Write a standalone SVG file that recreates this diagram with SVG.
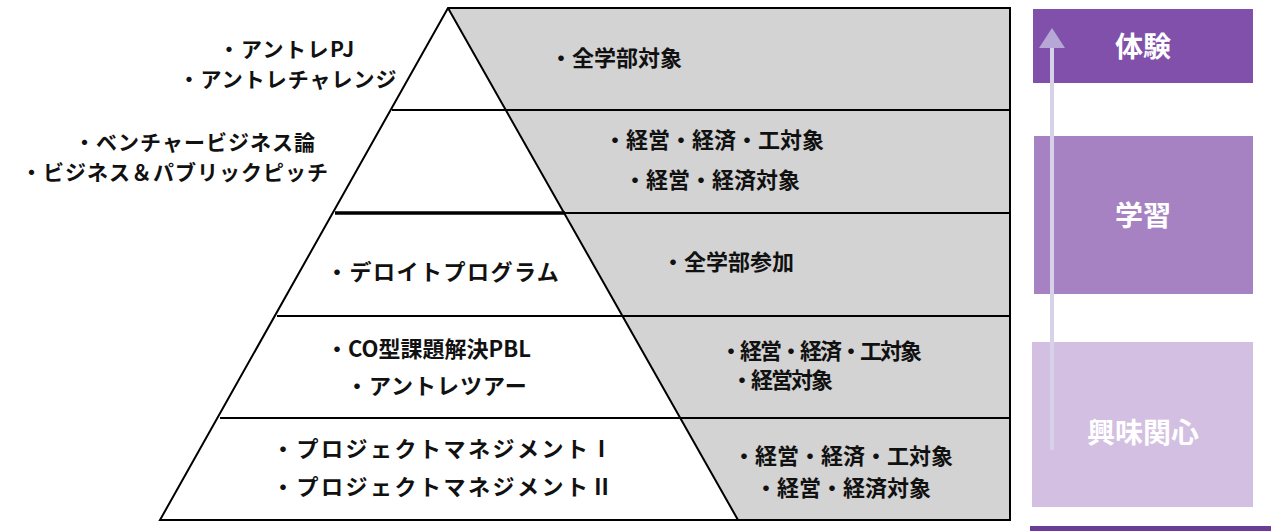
<svg xmlns="http://www.w3.org/2000/svg" width="1271" height="531" viewBox="0 0 1271 531">
<defs>
<style>
text{font-family:"Noto Sans CJK JP","Noto Sans",sans-serif;font-weight:bold;font-size:22px;fill:#111}
.s{font-size:21px}
.w{fill:#fff;font-size:28px}
.ln{stroke:#000;stroke-width:2;fill:none}
</style>
</defs>
<rect width="1271" height="531" fill="#fff"/>
<g id="pyramid">
<polygon points="448,8 1010,8 1010,520 738,520" fill="#d3d3d3"/>
<polygon points="448,8 160,520 738,520" fill="#fff"/>
<path class="ln" d="M448,8 L1010,8 L1010,520 L160,520 Z M448,8 L738,520 M392,110 L1010,110 M335,213 L1010,213 M277,316 L1010,316 M220,418 L1010,418"/>
<path stroke="#000" stroke-width="3.5" d="M335,213 L565,213"/>
</g>
<g id="row1"><text class="s" x="287" y="57" text-anchor="middle" letter-spacing="1.5">・アントレPJ</text><text class="s" x="288" y="87" text-anchor="middle" letter-spacing="1">・アントレチャレンジ</text><text x="550" y="66">・全学部対象</text></g>
<g id="row2"><text class="s" x="195" y="150" text-anchor="middle" letter-spacing="1">・ベンチャービジネス論</text><text class="s" x="175" y="180" text-anchor="middle" letter-spacing="1">・ビジネス＆パブリックピッチ</text><text x="604" y="148">・経営・経済・工対象</text><text x="624" y="188">・経営・経済対象</text></g>
<g id="row3"><text x="326" y="280" letter-spacing="1.5">・デロイトプログラム</text><text x="662" y="270">・全学部参加</text></g>
<g id="row4"><text x="326" y="357">・CO型課題解決PBL</text><text x="346" y="394" letter-spacing="1">・アントレツアー</text><text x="720" y="359" letter-spacing="-2">・経営・経済・工対象</text><text x="731" y="388" letter-spacing="-2">・経営対象</text></g>
<g id="row5"><text x="272" y="457" letter-spacing="2.5">・プロジェクトマネジメントⅠ</text><text x="272" y="495" letter-spacing="2.5">・プロジェクトマネジメントⅡ</text><text x="733" y="464">・経営・経済・工対象</text><text x="755" y="496">・経営・経済対象</text></g>
<g id="levels">
<rect x="1033" y="9" width="220" height="74" fill="#8050aa"/><text class="w" x="1143" y="57" text-anchor="middle">体験</text>
<rect x="1034" y="136" width="219" height="158" fill="#a782c3"/><text class="w" x="1143" y="226" text-anchor="middle">学習</text>
<rect x="1032" y="342" width="221" height="165" fill="#d3bfe1"/><text class="w" x="1143" y="443" text-anchor="middle">興味関心</text>
<rect x="1030" y="526" width="241" height="5" fill="#6a3d96"/>
</g>
<g id="connectors"><line x1="1052" y1="450" x2="1052" y2="46" stroke="#d6d2ea" stroke-width="4"/><polygon points="1039,48 1052,28 1065,48" fill="#b6a7d6"/></g>
</svg>
